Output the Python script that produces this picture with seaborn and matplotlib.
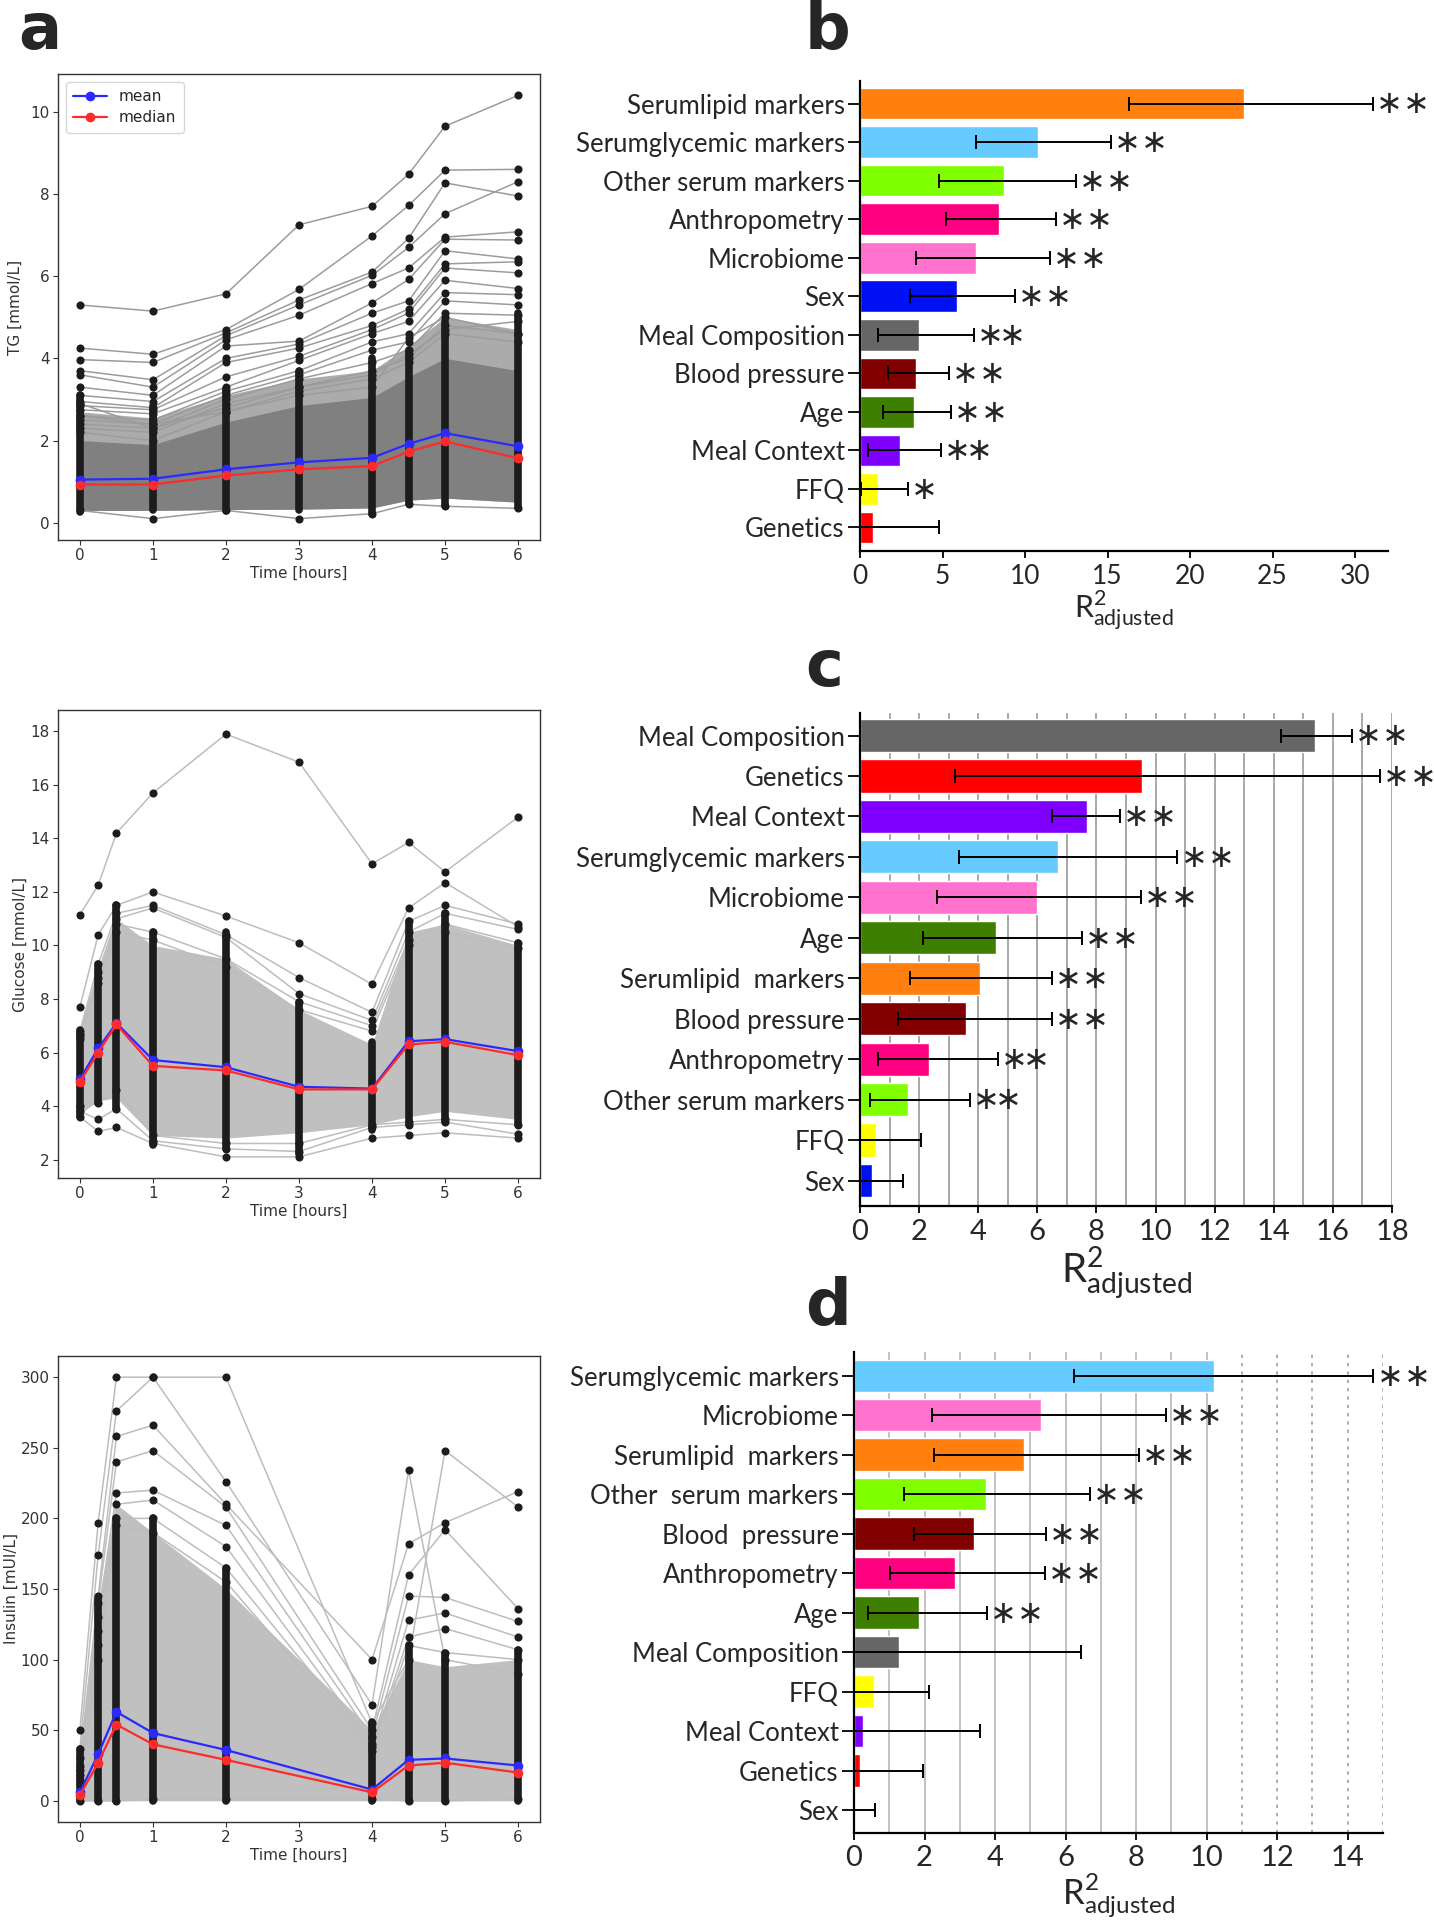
import numpy as np
import pandas as pd
import matplotlib
matplotlib.use("Agg")
import matplotlib.pyplot as plt
import seaborn as sns

# ---------------- data: left column (time courses) ----------------
TG_TIMES = [0, 1, 2, 3, 4, 4.5, 5, 6]
TG_MEAN = [1.05, 1.07, 1.30, 1.47, 1.58, 1.92, 2.18, 1.86]
TG_MEDIAN = [0.93, 0.93, 1.15, 1.30, 1.38, 1.73, 1.98, 1.57]
TG_BAND_LO = [0.30, 0.30, 0.32, 0.33, 0.36, 0.55, 0.60, 0.50]
TG_CORE_HI = [2.00, 1.90, 2.45, 2.85, 3.05, 3.55, 4.00, 3.70]
TG_BAND_HI = [2.70, 2.55, 3.10, 3.50, 3.70, 4.30, 5.00, 4.70]
TG_DOT_LO = [0.25, 0.30, 0.28, 0.30, 0.22, 0.45, 0.40, 0.35]
TG_DOT_HI = [3.10, 2.85, 3.25, 3.70, 4.00, 4.20, 4.90, 5.10]
TG_LINES = [
    [5.30, 5.15, 5.57, 7.25, 7.70, 8.48, 9.65, 10.40],
    [4.25, 4.10, 4.70, 5.68, 6.98, 7.72, 8.58, 8.60],
    [3.97, 3.90, 4.62, 5.42, 6.10, 6.92, 8.27, 7.95],
    [3.70, 3.48, 4.55, 5.30, 6.02, 6.70, 7.52, 8.30],
    [3.60, 3.30, 4.45, 5.05, 5.82, 6.20, 6.95, 7.08],
    [3.30, 3.10, 4.30, 4.42, 5.35, 5.92, 6.90, 6.88],
    [3.10, 2.95, 4.00, 4.35, 5.10, 5.40, 6.62, 6.42],
    [2.95, 2.80, 3.90, 4.25, 4.80, 5.20, 6.30, 6.35],
    [2.85, 2.75, 3.55, 4.05, 4.70, 5.10, 6.20, 6.08],
    [2.75, 2.65, 3.30, 3.95, 4.60, 4.90, 5.90, 5.70],
    [2.60, 2.50, 3.20, 3.70, 4.40, 4.60, 5.60, 5.55],
    [2.50, 2.40, 3.10, 3.60, 4.20, 4.40, 5.40, 5.30],
    [2.40, 2.30, 3.00, 3.50, 3.90, 4.20, 5.10, 5.05],
    [2.30, 2.20, 2.90, 3.30, 3.70, 4.00, 4.80, 4.60],
    [2.20, 2.00, 2.70, 3.20, 3.50, 3.90, 4.60, 4.40],
    [2.90, 2.30, 2.80, 3.30, 3.60, 4.10, 4.70, 4.90],
    [2.60, 2.40, 2.70, 3.10, 3.30, 4.50, 5.00, 4.60],
    [0.30, 0.10, 0.30, 0.10, 0.22, 0.45, 0.40, 0.35],
]

GLU_TIMES = [0, 0.25, 0.5, 1, 2, 3, 4, 4.5, 5, 6]
GLU_MEAN = [5.00, 6.15, 7.10, 5.72, 5.45, 4.72, 4.65, 6.42, 6.50, 6.05]
GLU_MEDIAN = [4.90, 6.00, 7.05, 5.50, 5.33, 4.62, 4.62, 6.30, 6.40, 5.90]
GLU_BAND_LO = [3.70, 4.20, 4.30, 2.90, 2.80, 3.00, 3.30, 3.60, 3.80, 3.50]
GLU_BAND_HI = [6.90, 9.00, 11.00, 10.00, 9.50, 7.60, 6.30, 10.50, 10.80, 10.00]
GLU_DOT_LO = [3.60, 4.10, 3.90, 2.55, 2.40, 2.20, 3.10, 3.30, 3.40, 3.30]
GLU_DOT_HI = [6.85, 9.30, 11.50, 10.50, 10.50, 7.90, 6.40, 10.90, 11.20, 10.10]
GLU_LINES = [
    [11.15, 12.25, 14.20, 15.70, 17.90, 16.85, 13.05, 13.85, 12.75, 14.80],
    [7.70, 10.40, 11.50, 12.00, 11.10, 10.10, 8.55, 11.40, 12.35, 10.70],
    [6.80, 9.30, 11.20, 11.50, 10.40, 8.80, 7.50, 10.90, 11.50, 10.80],
    [6.70, 9.00, 11.00, 11.40, 10.30, 8.20, 7.20, 10.50, 11.20, 10.60],
    [6.60, 8.80, 10.80, 10.50, 9.50, 7.90, 7.00, 10.20, 10.80, 10.10],
    [6.50, 8.60, 10.50, 10.20, 9.20, 7.60, 6.80, 10.00, 10.50, 9.90],
    [3.60, 3.05, 3.20, 2.60, 2.10, 2.10, 2.80, 2.90, 3.00, 2.80],
    [3.80, 3.50, 3.90, 2.70, 2.40, 2.30, 3.20, 3.30, 3.40, 2.95],
    [4.00, 4.10, 4.60, 2.90, 2.60, 2.60, 3.30, 3.40, 3.50, 3.30],
]

INS_TIMES = [0, 0.25, 0.5, 1, 2, 4, 4.5, 5, 6]
INS_MEAN = [6, 33, 63, 48, 36, 8, 29, 30, 25]
INS_MEDIAN = [4, 27, 54, 40, 29, 6, 25, 27, 20]
INS_BAND_LO = [0, 0, 0, 0, 0, 0, 0, 0, 0]
INS_BAND_HI = [37, 140, 210, 190, 150, 50, 100, 95, 100]
INS_DOT_LO = [0, 0, 0, 0, 0, 0, 0, 0, 0]
INS_DOT_HI = [37, 143, 200, 200, 165, 56, 110, 105, 107]
INS_LINES = [
    [50, 197, 300, 300, 300, 55, 100, 248, 208],
    [37, 174, 276, 300, 226, 68, 234, 100, 90],
    [30, 145, 258, 266, 210, 100, 182, 197, 219],
    [25, 140, 240, 248, 208, 50, 160, 192, 136],
    [22, 130, 218, 220, 195, 45, 145, 144, 127],
    [18, 120, 210, 213, 180, 40, 128, 133, 116],
    [15, 110, 200, 200, 165, 38, 116, 122, 107],
    [12, 100, 195, 190, 155, 35, 110, 105, 100],
    [0, 0, 0, 1, 1, 1, 0, 0, 1],
]

# ---------------- data: right column (R2 adjusted bars) ----------------
B_CATS = ["Serumlipid markers", "Serumglycemic markers", "Other serum markers", "Anthropometry",
          "Microbiome", "Sex", "Meal Composition", "Blood pressure", "Age", "Meal Context",
          "FFQ", "Genetics"]
B_VALS = [23.3, 10.8, 8.7, 8.4, 7.0, 5.9, 3.6, 3.4, 3.3, 2.4, 1.1, 0.8]
B_LO = [16.3, 7.0, 4.8, 5.2, 3.4, 3.0, 1.1, 1.7, 1.4, 0.5, 0.07, 0.0]
B_HI = [31.1, 15.2, 13.1, 11.9, 11.5, 9.4, 6.9, 5.4, 5.5, 4.9, 2.9, 4.8]
B_STARS = ["* *", "* *", "* *", "* *", "* *", "* *", "**", "* *", "* *", "**", "*", ""]

C_CATS = ["Meal Composition", "Genetics", "Meal Context", "Serumglycemic markers", "Microbiome",
          "Age", "Serumlipid  markers", "Blood pressure", "Anthropometry", "Other serum markers",
          "FFQ", "Sex"]
C_VALS = [15.4, 9.55, 7.67, 6.7, 6.0, 4.6, 4.05, 3.6, 2.32, 1.64, 0.55, 0.41]
C_LO = [14.25, 3.2, 6.5, 3.35, 2.6, 2.13, 1.68, 1.3, 0.62, 0.34, 0.0, 0.0]
C_HI = [16.66, 17.6, 8.8, 10.74, 9.5, 7.5, 6.48, 6.48, 4.67, 3.73, 2.05, 1.47]
C_STARS = ["* *", "* *", "* *", "* *", "* *", "* *", "* *", "* *", "**", "**", "", ""]

D_CATS = ["Serumglycemic markers", "Microbiome", "Serumlipid  markers", "Other  serum markers",
          "Blood  pressure", "Anthropometry", "Age", "Meal Composition", "FFQ", "Meal Context",
          "Genetics", "Sex"]
D_VALS = [10.21, 5.3, 4.83, 3.73, 3.41, 2.86, 1.84, 1.28, 0.57, 0.26, 0.18, 0.02]
D_LO = [6.25, 2.2, 2.28, 1.42, 1.7, 1.03, 0.4, 0.0, 0.0, 0.0, 0.0, 0.0]
D_HI = [14.73, 8.84, 8.08, 6.69, 5.44, 5.41, 3.76, 6.43, 2.12, 3.57, 1.97, 0.6]
D_STARS = ["* *", "* *", "* *", "* *", "* *", "* *", "* *", "", "", "", "", ""]

CAT_COLORS = {
    "Serumlipid markers": "#FF800E", "Serumlipid  markers": "#FF800E",
    "Serumglycemic markers": "#66CCFF",
    "Other serum markers": "#80FF00", "Other  serum markers": "#80FF00",
    "Anthropometry": "#FF0080",
    "Microbiome": "#FF73CF",
    "Sex": "#0010F5",
    "Meal Composition": "#666666",
    "Blood pressure": "#800000", "Blood  pressure": "#800000",
    "Age": "#3F7F00",
    "Meal Context": "#8000FF",
    "FFQ": "#FFFF00",
    "Genetics": "#FF0000",
}

# ---------------- figure ----------------
sns.set_style("white")
plt.rcParams["font.family"] = ["DejaVu Sans"]
plt.rcParams["mathtext.fontset"] = "dejavusans"
W, H = 1434, 1920
fig = plt.figure(figsize=(W / 100, H / 100), dpi=100)


def px_axes(l, t, r, b):
    return fig.add_axes([l / W, 1 - b / H, (r - l) / W, (b - t) / H])


def spaghetti(ax, times, lines, band_lo, band_hi, core_hi, dot_lo, dot_hi, mean, median,
              line_color, band_color, core_color, ylabel, yticks, ylim, label_x, legend=False):
    ax.fill_between(times, band_lo, band_hi, color=band_color, lw=0, zorder=1)
    if core_hi is not None:
        ax.fill_between(times, band_lo, core_hi, color=core_color, lw=0, zorder=1.1)
    rows = [(i, t, v) for i, row in enumerate(lines) for t, v in zip(times, row)]
    df = pd.DataFrame(rows, columns=["subject", "time", "value"])
    sns.lineplot(data=df, x="time", y="value", units="subject", estimator=None,
                 color=line_color, lw=1.1, ax=ax, zorder=2, legend=False)
    vl = ax.vlines(times, dot_lo, dot_hi, color="#1c1c1c", lw=5.5, zorder=3)
    vl.set_capstyle("round")
    ax.scatter(df["time"], df["value"], s=34, color="#1c1c1c", zorder=3, linewidths=0)
    sns.lineplot(x=times, y=mean, color="#2a2aff", marker="o", markersize=7,
                 markeredgewidth=0, lw=1.6, ax=ax, zorder=4, label="mean")
    sns.lineplot(x=times, y=median, color="#ff2a2a", marker="o", markersize=7,
                 markeredgewidth=0, lw=1.6, ax=ax, zorder=5, label="median")
    if legend:
        ax.legend(loc="upper left", fontsize=11, frameon=True, handlelength=2.2,
                  borderpad=0.5, labelspacing=0.4)
    else:
        ax.get_legend().remove()
    ax.set_xlim(-0.3, 6.3)
    ax.set_ylim(*ylim)
    ax.set_xticks([0, 1, 2, 3, 4, 5, 6])
    ax.set_yticks(yticks)
    ax.tick_params(labelsize=11, colors="#333333", length=3.5, width=0.8, left=True,
                   bottom=True, pad=2.5)
    ax.set_xlabel("Time [hours]", fontsize=11, color="#333333", labelpad=2)
    ax.set_ylabel(ylabel, fontsize=11, color="#333333")
    ax.yaxis.set_label_coords(label_x, 0.5)
    for s in ax.spines.values():
        s.set_color("#333333")
        s.set_linewidth(1.0)


ax_a = px_axes(58, 74, 540, 540)
spaghetti(ax_a, TG_TIMES, TG_LINES, TG_BAND_LO, TG_BAND_HI, TG_CORE_HI, TG_DOT_LO, TG_DOT_HI,
          TG_MEAN, TG_MEDIAN, "#9c9c9c", "#ababab", "#808080", "TG [mmol/L]",
          [0, 2, 4, 6, 8, 10], (-0.42, 10.92), -0.072, legend=True)

ax_g = px_axes(58, 710, 540, 1178)
spaghetti(ax_g, GLU_TIMES, GLU_LINES, GLU_BAND_LO, GLU_BAND_HI, None, GLU_DOT_LO, GLU_DOT_HI,
          GLU_MEAN, GLU_MEDIAN, "#bdbdbd", "#c0c0c0", None, "Glucose [mmol/L]",
          [2, 4, 6, 8, 10, 12, 14, 16, 18], (1.31, 18.8), -0.062)

ax_i = px_axes(58, 1356, 540, 1822)
spaghetti(ax_i, INS_TIMES, INS_LINES, INS_BAND_LO, INS_BAND_HI, None, INS_DOT_LO, INS_DOT_HI,
          INS_MEAN, INS_MEDIAN, "#bdbdbd", "#c0c0c0", None, "Insulin [mUI/L]",
          [0, 50, 100, 150, 200, 250, 300], (-15, 315), -0.082)


LABEL_FONT = ["Lato", "DejaVu Sans"]
STAR_TEX = {"* *": r"$\ast\!\ast$", "**": r"$\ast\!\!\ast$", "*": r"$\ast$"}


def bars(ax, cats, vals, lo, hi, stars, xmax, ticks, ylim, tick_fs, r2_fs, r2_pad,
         grid_solid=(), grid_dotted=(), grid_color="#9a9a9a"):
    for g in grid_solid:
        ax.axvline(g, color=grid_color, lw=1.2, zorder=0)
    for g in grid_dotted:
        ax.axvline(g, color="#a0a0a0", lw=1.2, ls=(0, (2, 3)), zorder=0)
    df = pd.DataFrame({"cat": cats, "val": vals})
    sns.barplot(data=df, x="val", y="cat", hue="cat", palette={c: CAT_COLORS[c] for c in cats},
                orient="h", width=0.82, saturation=1, ax=ax, legend=False, zorder=2)
    pos = np.arange(len(cats))
    v = np.array(vals)
    ax.errorbar(v, pos, xerr=[v - np.array(lo), np.array(hi) - v], fmt="none",
                ecolor="black", elinewidth=1.4, capsize=5, capthick=1.4, zorder=3)
    for p, h, s in zip(pos, hi, stars):
        if s:
            ax.annotate(STAR_TEX[s], xy=(h, p), xytext=(1.5, -1), textcoords="offset points",
                        ha="left", va="center", fontsize=23, zorder=4)
    ax.set_xlim(0, xmax)
    ax.set_ylim(*ylim)
    ax.set_xticks(ticks)
    ax.set_xticklabels([str(t) for t in ticks], family=LABEL_FONT, fontsize=tick_fs)
    ax.set_yticks(pos)
    ax.set_yticklabels(cats, family=LABEL_FONT, fontsize=18.5)
    ax.tick_params(axis="y", left=True, length=9, width=1.3, color="black", pad=2)
    ax.tick_params(axis="x", bottom=True, length=5, width=1.3, color="black", pad=4)
    ax.set_ylabel("")
    ax.set_xlabel(r"$\mathregular{R^2_{adjusted}}$", family=LABEL_FONT, fontsize=r2_fs,
                  labelpad=r2_pad)
    for side in ("top", "right"):
        ax.spines[side].set_visible(False)
    for side in ("left", "bottom"):
        ax.spines[side].set_color("black")
        ax.spines[side].set_linewidth(1.6)


ax_b = px_axes(860, 81, 1388, 551)
bars(ax_b, B_CATS, B_VALS, B_LO, B_HI, B_STARS, 32, [0, 5, 10, 15, 20, 25, 30],
     (11.61, -0.585), 19, 22, 0)

ax_c = px_axes(860, 713, 1392, 1206)
bars(ax_c, C_CATS, C_VALS, C_LO, C_HI, C_STARS, 18, list(range(0, 19, 2)),
     (11.63, -0.557), 21, 29, 0, grid_solid=range(1, 19))

ax_d = px_axes(854, 1352, 1383, 1833)
bars(ax_d, D_CATS, D_VALS, D_LO, D_HI, D_STARS, 15, list(range(0, 15, 2)),
     (11.58, -0.6), 21, 25, 0, grid_solid=range(1, 11), grid_dotted=range(11, 16),
     grid_color="#b8b8b8")

# panel letters
for letter, x, y in [("a", 18, 49), ("b", 805, 49), ("c", 805, 686), ("d", 805, 1325)]:
    fig.text(x / W, 1 - y / H, letter, fontsize=46, fontweight="bold", va="baseline",
             ha="left", family=["DejaVu Sans"])

fig.savefig("out.png", dpi=100)
